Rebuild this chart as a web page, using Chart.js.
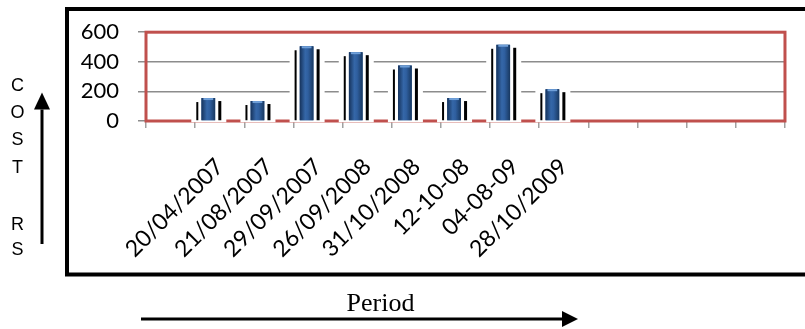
<!DOCTYPE html>
<html lang="en">
<head>
<meta charset="UTF-8">
<title>Cost by period</title>
<style>
html, body {
	margin: 0;
	padding: 0;
	background: #fff;
}

#wrap {
	position: relative;
	width: 805px;
	height: 329px;
}
</style>
<script src="https://cdn.jsdelivr.net/npm/chart.js"></script>
</head>
<body>
	<div id="wrap">
		<canvas id="costChart"></canvas>
	</div>
	<script>
		// values
		const periods = ['20/04/2007', '21/08/2007', '29/09/2007', '26/09/2008', '31/10/2008', '12-10-08', '04-08-09', '28/10/2009'];
		const cost = [155, 135, 505, 465, 375, 155, 515, 215];
		const yTicks = [0, 200, 400, 600];
		const blankBefore = 1;
		const blankAfter = 4;
		const yTitle = ['C', 'O', 'S', 'T', 'R', 'S'];
		const xTitle = 'Period';

		const slots = [...Array(blankBefore).fill(''), ...periods, ...Array(blankAfter).fill('')];
		const costData = [...Array(blankBefore).fill(null), ...cost, ...Array(blankAfter).fill(null)];

		function arrow(ctx, x1, y1, x2, y2, head) {
			const ang = Math.atan2(y2 - y1, x2 - x1);
			const bx = x2 - Math.cos(ang) * head;
			const by = y2 - Math.sin(ang) * head;
			ctx.beginPath();
			ctx.moveTo(x1, y1);
			ctx.lineTo(bx, by);
			ctx.stroke();
			ctx.beginPath();
			ctx.moveTo(x2, y2);
			ctx.lineTo(bx + Math.sin(ang) * 8, by - Math.cos(ang) * 8);
			ctx.lineTo(bx - Math.sin(ang) * 8, by + Math.cos(ang) * 8);
			ctx.closePath();
			ctx.fill();
		}

		const decor = {
			id: 'decor',
			beforeDatasetsDraw(chart) {
				const { ctx, chartArea: a } = chart;
				ctx.save();
				ctx.strokeStyle = '#c0504d';
				ctx.lineWidth = 3;
				ctx.strokeRect(a.left, a.top, a.right - a.left, a.bottom - a.top);
				chart.getDatasetMeta(0).data.forEach((bar, i) => {
					if (costData[i] == null) return;
					const { x, y, base } = bar.getProps(['x', 'y', 'base'], true);
					ctx.fillStyle = '#fff';
					ctx.fillRect(x - 17, y - 2, 35, base - y + 4);
					ctx.fillStyle = '#000';
					ctx.fillRect(x - 12, y + 4, 2, base - y - 4);
					ctx.fillRect(x + 10, y + 3, 3, base - y - 3);
				});
				ctx.restore();
			},
			afterDatasetsDraw(chart) {
				const ctx = chart.ctx;
				ctx.save();
				chart.getDatasetMeta(0).data.forEach((bar, i) => {
					if (costData[i] == null) return;
					const { x, y, base, width } = bar.getProps(['x', 'y', 'base', 'width'], true);
					const g = ctx.createLinearGradient(x - width / 2, 0, x + width / 2, 0);
					g.addColorStop(0, '#16335c');
					g.addColorStop(0.4, '#3567a8');
					g.addColorStop(0.6, '#2f5f9f');
					g.addColorStop(1, '#183860');
					ctx.fillStyle = g;
					ctx.fillRect(x - width / 2, y, width, base - y);
					ctx.fillStyle = '#6f9fd8';
					ctx.fillRect(x - width / 2 + 2, y, width - 4, 2);
				});
				ctx.restore();
			},
			afterDraw(chart) {
				const ctx = chart.ctx;
				ctx.save();
				// outer frame
				ctx.strokeStyle = '#000';
				ctx.lineWidth = 4;
				ctx.strokeRect(67, 9, 800, 265.5);
				// vertical title, letters stacked
				const letterY = [86, 113, 140, 168, 225, 250];
				ctx.fillStyle = '#000';
				ctx.font = '18px "Liberation Sans"';
				ctx.textAlign = 'center';
				ctx.textBaseline = 'middle';
				yTitle.forEach((ch, i) => {
					ctx.fillText(ch, 17.5, letterY[i]);
				});
				ctx.lineWidth = 3;
				arrow(ctx, 42, 244, 42, 92.5, 17);
				// horizontal title
				ctx.font = '26px "Liberation Serif"';
				ctx.textBaseline = 'alphabetic';
				ctx.fillText(xTitle, 380.5, 310.5);
				arrow(ctx, 141, 319, 578, 319, 16);
				ctx.restore();
			}
		};

		const ctx = document.getElementById('costChart').getContext('2d');
		const costChart = new Chart(ctx, {
			type: 'bar',
			data: {
				labels: slots,
				datasets: [{
					label: 'COST RS',
					data: costData,
					backgroundColor: '#2a5b98',
					barPercentage: 0.6,
					categoryPercentage: 0.93
				}, {
					label: '',
					data: slots.map(() => null),
					barPercentage: 0.6,
					categoryPercentage: 0.93
				}]
			},
			options: {
				responsive: true,
				maintainAspectRatio: false,
				animation: false,
				layout: {
					padding: { top: 25, right: 2, bottom: 0, left: 0 }
				},
				plugins: {
					legend: { display: false },
					tooltip: { enabled: false }
				},
				scales: {
					x: {
						offset: true,
						grid: {
							offset: true,
							drawOnChartArea: false,
							drawTicks: true,
							tickLength: 7,
							color: '#a0a0a0',
							lineWidth: 1.5
						},
						border: { display: false },
						ticks: {
							autoSkip: false,
							minRotation: 45,
							maxRotation: 45,
							padding: 25,
							color: '#000',
							font: { family: 'Lato', size: 23 }
						},
						afterFit: s => { s.height = 208; }
					},
					y: {
						min: 0,
						max: 600,
						afterBuildTicks: s => { s.ticks = yTicks.map(v => ({ value: v })); },
						grid: {
							color: '#8c8c8c',
							lineWidth: 1.5,
							tickLength: 8
						},
						border: { display: false },
						ticks: {
							padding: 19,
							color: '#000',
							font: { family: 'Lato', size: 22 }
						},
						afterFit: s => { s.width = 146; }
					}
				}
			},
			plugins: [decor]
		});
	</script>
</body>
</html>
